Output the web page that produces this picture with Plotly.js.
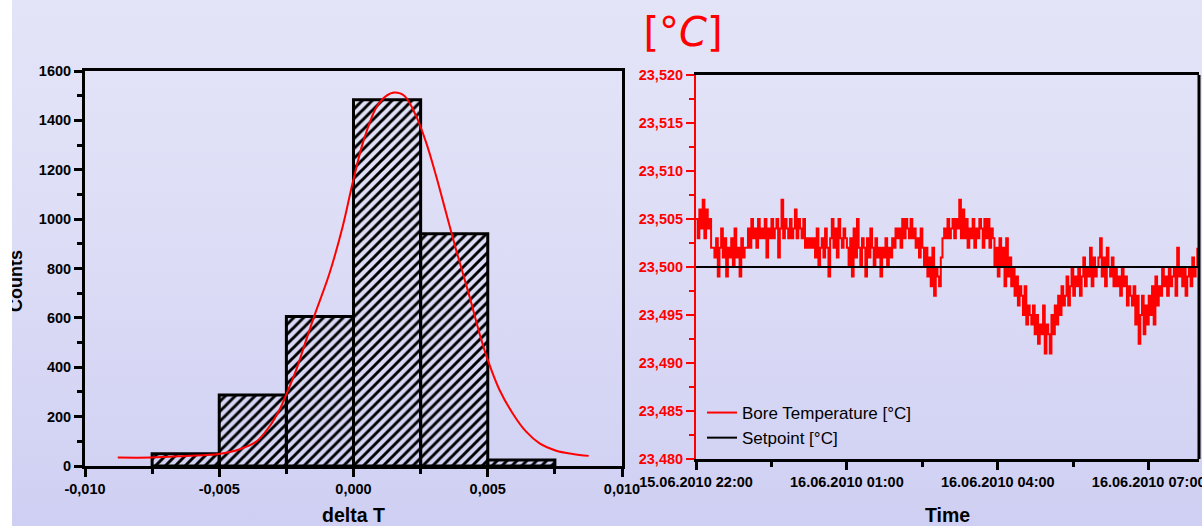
<!DOCTYPE html>
<html>
<head>
<meta charset="utf-8">
<script src="https://cdn.plot.ly/plotly-3.0.1.min.js"></script>
<style>
  html, body { margin: 0; padding: 0; }
  body { width: 1202px; height: 526px; overflow: hidden;
         background: linear-gradient(to bottom, #e4e4f8 0%, #dcdcf6 50%, #cfcff3 100%); }
  #plot { position: absolute; left: 0; top: 0; width: 1202px; height: 526px; }
  #strip { position: absolute; left: 0; top: 0; width: 12px; height: 526px; background: #ffffff; z-index: 10; }
</style>
</head>
<body>
<div id="plot"></div>
<div id="strip"></div>
<script>
// ---- Histogram (left) ----
const binStarts = [-0.0075, -0.005, -0.0025, 0.0, 0.0025, 0.005];
const binCounts = [50, 288, 606, 1484, 941, 24];
const binWidth = 0.0025;

// Gaussian fit curve
const fitX = [-0.00878, -0.00753, -0.00623, -0.00502, -0.00424, -0.00362, -0.00313, -0.00276,
              -0.00251, -0.00213, -0.00176, -0.00142, -0.00089, -0.00040, -0.00003, 0.00035,
              0.00085, 0.00122, 0.00153, 0.00190, 0.00233, 0.00271, 0.00308, 0.00345,
              0.00382, 0.00432, 0.00469, 0.00500, 0.00544, 0.00593, 0.00643, 0.00693,
              0.00755, 0.00817, 0.00876];
const fitY = [34, 34, 41, 49, 68, 99, 160, 227,
              288, 390, 511, 620, 782, 971, 1147, 1309,
              1452, 1499, 1513, 1499, 1418, 1309, 1174, 1025,
              876, 687, 538, 430, 308, 213, 139, 92,
              62, 49, 41];

const xTickVals = [-0.010, -0.005, 0.000, 0.005, 0.010];
const xTickText = ['-0,010', '-0,005', '0,000', '0,005', '0,010'];

// ---- Time series (right) ----
const tStart = '2010-06-15 22:00:00';
const tEnd = '2010-06-16 08:00:00';
const sampleMinutes = 2;
const boreTemp = [
  23.505,23.503,23.506,23.504,23.507,23.503,23.506,23.504,23.505,23.502,
  23.502,23.501,23.503,23.499,23.502,23.504,23.501,23.503,23.499,23.502,
  23.501,23.503,23.500,23.504,23.501,23.502,23.499,23.503,23.501,23.502,
  23.502,23.504,23.502,23.505,23.503,23.504,23.502,23.505,23.503,23.504,
  23.503,23.505,23.501,23.504,23.503,23.505,23.503,23.504,23.505,23.501,
  23.504,23.507,23.503,23.505,23.504,23.503,23.505,23.503,23.504,23.506,
  23.503,23.505,23.504,23.503,23.505,23.502,23.503,23.502,23.503,23.502,
  23.503,23.501,23.504,23.500,23.502,23.503,23.501,23.504,23.502,23.499,
  23.503,23.505,23.502,23.504,23.501,23.505,23.503,23.502,23.504,23.503,
  23.502,23.500,23.503,23.499,23.504,23.501,23.505,23.502,23.500,23.503,
  23.502,23.499,23.503,23.501,23.504,23.502,23.500,23.503,23.501,23.502,
  23.499,23.502,23.501,23.503,23.500,23.502,23.501,23.503,23.502,23.504,
  23.503,23.504,23.502,23.505,23.503,23.505,23.504,23.503,23.505,23.503,
  23.504,23.502,23.503,23.501,23.504,23.502,23.500,23.502,23.499,23.501,
  23.498,23.502,23.497,23.500,23.499,23.498,23.501,23.503,23.504,23.503,
  23.505,23.503,23.504,23.505,23.503,23.505,23.504,23.507,23.503,23.506,
  23.503,23.505,23.502,23.504,23.503,23.505,23.502,23.504,23.503,23.505,
  23.504,23.502,23.505,23.503,23.505,23.502,23.504,23.503,23.500,23.502,
  23.499,23.503,23.500,23.502,23.498,23.503,23.499,23.501,23.498,23.500,
  23.497,23.499,23.496,23.498,23.497,23.495,23.498,23.494,23.496,23.495,
  23.494,23.496,23.493,23.495,23.492,23.494,23.493,23.496,23.491,23.494,
  23.493,23.491,23.495,23.493,23.496,23.494,23.497,23.495,23.498,23.496,
  23.497,23.499,23.496,23.498,23.500,23.497,23.499,23.498,23.500,23.497,
  23.499,23.501,23.498,23.500,23.499,23.502,23.498,23.501,23.499,23.500,
  23.501,23.503,23.499,23.501,23.498,23.502,23.500,23.499,23.501,23.498,
  23.500,23.498,23.499,23.497,23.500,23.498,23.499,23.496,23.498,23.497,
  23.496,23.498,23.494,23.497,23.492,23.495,23.497,23.493,23.496,23.494,
  23.497,23.495,23.498,23.494,23.499,23.496,23.498,23.497,23.500,23.498,
  23.499,23.497,23.500,23.498,23.499,23.500,23.497,23.502,23.499,23.500,
  23.498,23.500,23.497,23.499,23.500,23.498,23.501,23.499,23.500,23.502
];
const setpointTimes = [tStart, tEnd];
const setpointValues = [23.500, 23.500];

// sampling grid for the logged temperature
function fmt(ms) { return new Date(ms).toISOString().slice(0, 19).replace('T', ' '); }
const t0 = Date.UTC(2010, 5, 15, 22, 0, 0);
const boreTimes = boreTemp.map((v, i) => fmt(t0 + i * sampleMinutes * 60000));

const W = 1202, H = 526;
const px = v => v / W;
const py = v => 1 - v / H;
const FONT = 'Liberation Sans, Arial, sans-serif';

const traces = [
  {
    type: 'bar', x: binStarts, y: binCounts, width: binWidth, offset: 0,
    xaxis: 'x', yaxis: 'y', showlegend: false, hoverinfo: 'x+y',
    marker: {
      color: 'rgba(0,0,0,0)',
      line: { color: '#000000', width: 3 },
      pattern: { shape: '/', fgcolor: '#000000', bgcolor: 'rgba(0,0,0,0)', size: 7, solidity: 0.42 }
    }
  },
  {
    type: 'scatter', mode: 'lines', x: fitX, y: fitY, xaxis: 'x', yaxis: 'y',
    line: { color: '#ff0000', width: 2, shape: 'spline' }, showlegend: false
  },
  {
    type: 'scatter', mode: 'lines', x: boreTimes, y: boreTemp, xaxis: 'x2', yaxis: 'y2',
    name: 'Bore Temperature [°C]', line: { color: '#ff0000', width: 2, shape: 'hv' }
  },
  {
    type: 'scatter', mode: 'lines', x: setpointTimes, y: setpointValues, xaxis: 'x2', yaxis: 'y2',
    name: 'Setpoint [°C]', line: { color: '#000000', width: 2 }
  }
];

const tickFontBlack = { family: FONT, size: 14.5, color: '#000000', weight: 'bold' };
const tickFontRed = { family: FONT, size: 14.5, color: '#ff0000', weight: 'bold' };
const titleFont = { family: FONT, size: 19.5, color: '#000000', weight: 'bold' };

const layout = {
  width: W, height: H,
  margin: { l: 0, r: 0, t: 0, b: 0 },
  paper_bgcolor: 'rgba(0,0,0,0)',
  plot_bgcolor: 'rgba(0,0,0,0)',
  separators: ',.',
  font: { family: FONT, size: 14, color: '#000000' },
  bargap: 0,
  title: {
    text: '[°<i>C</i>]', x: px(683), xanchor: 'center', y: py(32), yanchor: 'middle',
    font: { family: 'DejaVu Sans, sans-serif', size: 40, color: '#ff0000' }
  },
  showlegend: true,
  legend: {
    x: px(702), y: py(395), xanchor: 'left', yanchor: 'top',
    bgcolor: 'rgba(0,0,0,0)', borderwidth: 0, itemwidth: 30,
    font: { family: FONT, size: 17, color: '#000000' }
  },
  xaxis: {
    domain: [px(85), px(622)], anchor: 'y', range: [-0.010, 0.010],
    tickmode: 'array', tickvals: xTickVals, ticktext: xTickText,
    ticks: 'outside', ticklen: 8, tickwidth: 3, tickcolor: '#000000',
    minor: { tick0: -0.010, dtick: 0.0025, ticks: 'outside', ticklen: 5, tickwidth: 3, tickcolor: '#000000' },
    showline: true, linewidth: 3, linecolor: '#000000', mirror: true,
    showgrid: false, zeroline: false, tickfont: tickFontBlack, ticklabeloverflow: 'allow',
    title: { text: 'delta T', font: titleFont, standoff: 17 }
  },
  yaxis: {
    domain: [py(466), py(71)], anchor: 'x', range: [0, 1600],
    tick0: 0, dtick: 200,
    ticks: 'outside', ticklen: 8, tickwidth: 3, tickcolor: '#000000',
    minor: { tick0: 0, dtick: 100, ticks: 'outside', ticklen: 5, tickwidth: 3, tickcolor: '#000000' },
    showline: true, linewidth: 3, linecolor: '#000000', mirror: true,
    showgrid: false, zeroline: false, tickfont: tickFontBlack
  },
  xaxis2: {
    domain: [px(696), px(1199)], anchor: 'y2', type: 'date', range: [tStart, tEnd],
    tick0: tStart, dtick: 3 * 3600000, tickformat: '%d.%m.%Y %H:%M',
    ticks: 'outside', ticklen: 8, tickwidth: 3, tickcolor: '#000000',
    minor: { tick0: tStart, dtick: 1.5 * 3600000, ticks: 'outside', ticklen: 5, tickwidth: 3, tickcolor: '#000000' },
    showline: true, linewidth: 3, linecolor: '#000000', mirror: true,
    showgrid: false, zeroline: false, tickfont: tickFontBlack, ticklabeloverflow: 'allow',
    title: { text: 'Time', font: titleFont, standoff: 19 }
  },
  yaxis2: {
    domain: [py(459), py(75)], anchor: 'x2', range: [23.480, 23.520],
    tick0: 23.48, dtick: 0.005, tickformat: '.3f',
    ticks: 'outside', ticklen: 8, tickwidth: 2, tickcolor: '#ff0000',
    minor: { tick0: 23.48, dtick: 0.0025, ticks: 'outside', ticklen: 5, tickwidth: 2, tickcolor: '#ff0000' },
    showline: true, linewidth: 2, linecolor: '#ff0000', mirror: false,
    showgrid: false, zeroline: false, tickfont: tickFontRed
  },
  annotations: [
    { text: 'Counts', textangle: -90, xref: 'paper', yref: 'paper', x: px(16), y: py(281),
      xanchor: 'center', yanchor: 'middle', showarrow: false,
      font: { family: FONT, size: 18, color: '#000000', weight: 'bold' } }
  ],
  shapes: [
    { type: 'line', xref: 'x2 domain', yref: 'y2 domain', x0: 1, x1: 1, y0: 0, y1: 1,
      line: { color: '#000000', width: 3 } }
  ]
};

Plotly.newPlot('plot', traces, layout, { displayModeBar: false, staticPlot: true });
</script>
</body>
</html>
